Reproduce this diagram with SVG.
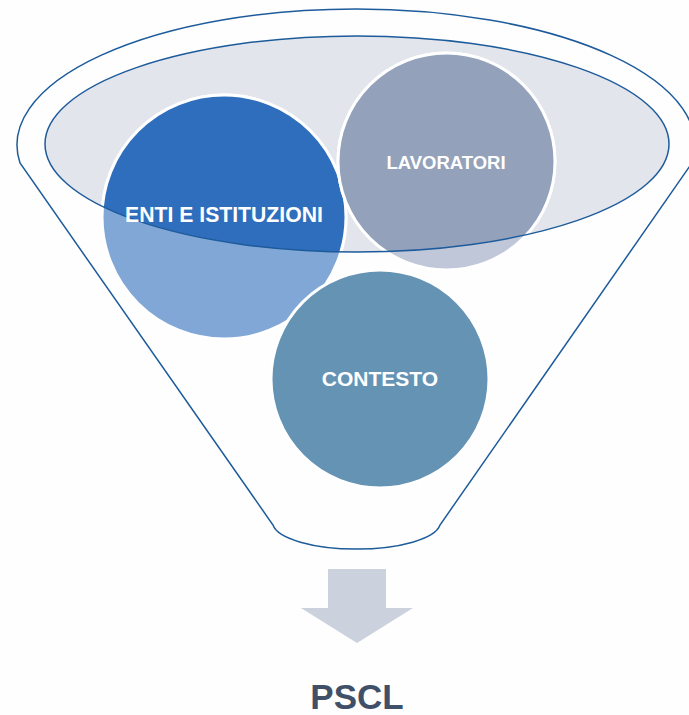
<svg xmlns="http://www.w3.org/2000/svg" width="689" height="715" viewBox="0 0 689 715">
<style>
.outline{fill:none;stroke:#1d5b9b;stroke-width:1.5}
.circ{stroke:#ffffff;stroke-width:3}
.lbl{font-family:"Liberation Sans",Arial,sans-serif;font-weight:bold;fill:#ffffff;text-anchor:middle}
</style>
<defs>
<clipPath id="inner"><ellipse cx="357" cy="144" rx="312" ry="108"/></clipPath>
</defs>
<rect width="689" height="715" fill="#fefefe"/>
<g id="funnel">
<ellipse cx="357" cy="144" rx="312" ry="108" fill="#e3e5ec"/>
<path class="outline" d="M 20 163 A 339 136 0 1 1 692 163 L 440 525 A 84 27 0 0 1 273 525 Z"/>
</g>
<g id="enti">
<circle class="circ" cx="224" cy="217" r="122" fill="#80a7d6"/>
<circle class="circ" cx="224" cy="217" r="122" fill="#2e6ebd" clip-path="url(#inner)"/>
</g>
<g id="lavoratori">
<circle class="circ" cx="446.5" cy="161.5" r="108.5" fill="#c0c7d8"/>
<circle class="circ" cx="446.5" cy="161.5" r="108.5" fill="#93a1bb" clip-path="url(#inner)"/>
</g>
<g id="contesto">
<circle class="circ" cx="380" cy="379" r="109" fill="#6593b4"/>
</g>
<ellipse class="outline" cx="357" cy="144" rx="312" ry="108"/>
<text class="lbl" x="224" y="222" font-size="21.2">ENTI E ISTITUZIONI</text>
<text class="lbl" x="446" y="169" font-size="18.5">LAVORATORI</text>
<text class="lbl" x="380" y="386" font-size="21">CONTESTO</text>
<g id="arrow">
<polygon points="328,569 386,569 386,608 413,608 357,643 301,608 328,608" fill="#cbd2de"/>
</g>
<g id="pscl">
<text x="357" y="709" font-family="Liberation Sans, Arial, sans-serif" font-weight="bold" font-size="35" fill="#3f5068" text-anchor="middle">PSCL</text>
</g>
</svg>
